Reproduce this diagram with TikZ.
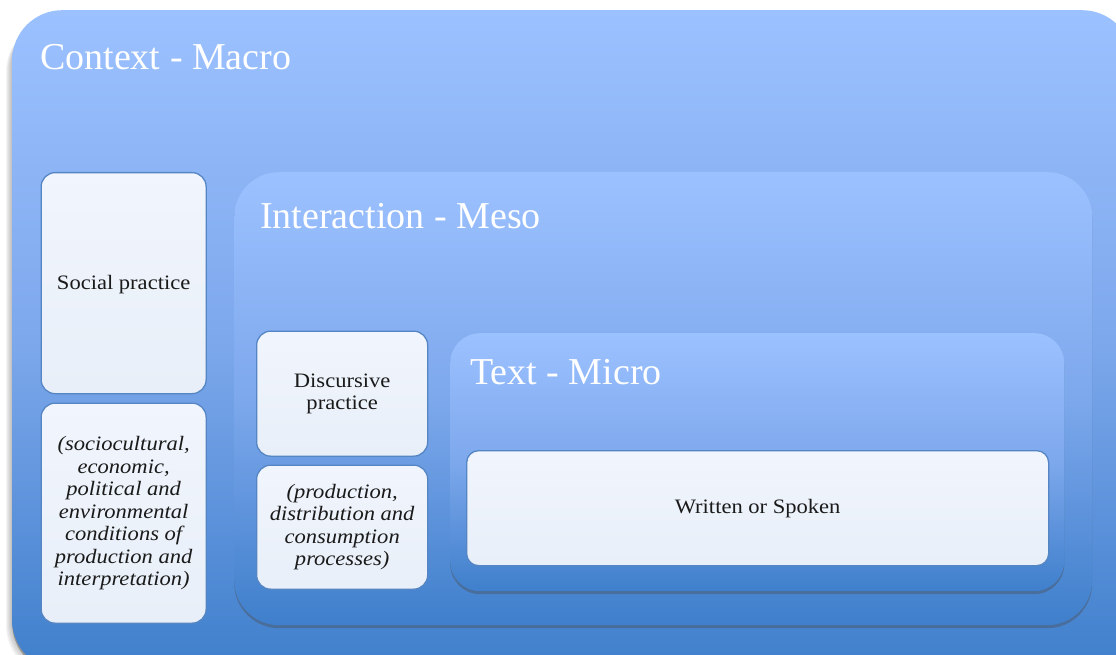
\documentclass[tikz,border=0pt]{standalone}
\usepackage{fontspec}
\setmainfont{Liberation Serif}
\newfontfamily\bodyfont[FakeStretch=1.1]{Liberation Serif}
\usetikzlibrary{shadows}
\definecolor{topblue}{HTML}{9CC1FF}
\definecolor{midblue}{HTML}{7DA8EC}
\definecolor{botblue}{HTML}{3F7FCB}
\definecolor{boxtop}{HTML}{F1F5FD}
\definecolor{boxbot}{HTML}{E8EFF8}
\definecolor{boxline}{HTML}{5586C3}
\definecolor{txt}{HTML}{1A1A1A}
\begin{document}
\begin{tikzpicture}[x=1pt,y=-1pt,
  container/.style={anchor=north west, inner sep=0pt, draw=none,
    top color=topblue, bottom color=botblue, middle color=midblue,
    drop shadow={shadow xshift=0pt, shadow yshift=-3pt, opacity=0.4, fill=black!70}},
  title/.style={anchor=base west, inner sep=0pt, text=white, font=\fontsize{38}{40}\selectfont},
  whitebox/.style={anchor=north west, inner sep=0pt, draw=boxline, line width=1.3pt,
    rounded corners=14pt, top color=boxtop, bottom color=boxbot},
  label/.style={align=center, text=txt, font=\bodyfont\fontsize{20.5}{22.5}\selectfont},
  ilabel/.style={label, font=\bodyfont\fontsize{20.5}{22.5}\selectfont\itshape}
]
\useasboundingbox (0,0) rectangle (1116,655);
\begin{scope}
\clip (0,0) rectangle (1116,655);
% soft shadow of outer container
\foreach \d in {1,2,3,4,5,6}
  \fill[black, opacity=0.045, rounded corners=50pt] (12-\d,16+\d) rectangle (1132+\d,670+\d);
% outer container
\node[container, rounded corners=50pt, minimum width=1120pt, minimum height=660pt] (macro) at (12,10) {};
\node[title] (macrot) at (40,70) {Context - Macro};
% left boxes
\node[whitebox, minimum width=165pt, minimum height=221pt] (social) at (40.5,172) {};
\node[label] (socialt) at ([yshift=-1.5pt]social.center) {Social practice};
\node[whitebox, minimum width=165pt, minimum height=220pt] (socio) at (40.5,402.5) {};
\node[ilabel] (sociot) at (socio.center) {(sociocultural,\\economic,\\political and\\environmental\\conditions of\\production and\\interpretation)};
% interaction
\node[container, rounded corners=45pt, minimum width=858pt, minimum height=453pt] (meso) at (234,172) {};
\node[title] (mesot) at (260,229) {Interaction - Meso};
\node[whitebox, minimum width=171pt, minimum height=125pt] (disc) at (256,330.5) {};
\node[label] (disct) at (disc.center) {Discursive\\practice};
\node[whitebox, minimum width=171pt, minimum height=124pt] (prod) at (256,464.5) {};
\node[ilabel] (prodt) at (prod.center) {(production,\\distribution and\\consumption\\processes)};
% text micro
\node[container, rounded corners=30pt, minimum width=614pt, minimum height=258pt] (micro) at (450,333) {};
\node[title] (microt) at (470,384) {Text - Micro};
\node[whitebox, rounded corners=12pt, minimum width=582pt, minimum height=115pt] (written) at (466,450) {};
\node[label] (writtent) at (written.center) {Written or Spoken};
\end{scope}
\end{tikzpicture}
\end{document}
